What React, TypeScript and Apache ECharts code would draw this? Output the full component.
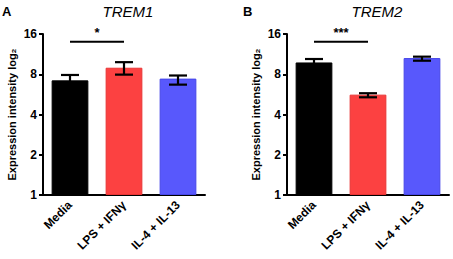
import React, { useEffect, useRef } from "react";
import * as echarts from "echarts";

const categories = ["Media", "LPS + IFNγ", "IL-4 + IL-13"];
const trem1Values = [7.2, 8.95, 7.42];
const trem1Low = [6.6, 7.95, 6.69];
const trem1High = [7.9, 9.85, 7.83];
const trem2Values = [9.8, 5.63, 10.57];
const trem2Low = [9.2, 5.38, 10.1];
const trem2High = [10.4, 5.77, 10.83];
const yTicks = [1, 2, 4, 8, 16];
const barColors = ["#000000", "#fc4141", "#5858fc"];
const barBorders = ["#000000", "#e83434", "#4646e8"];
const sig1 = { from: 0, to: 1, y: 14, label: "*" };
const sig2 = { from: 0, to: 1, y: 14, label: "***" };

const FONT = "Liberation Sans, Arial, Helvetica, sans-serif";

export default function App() {
  const ref = useRef<HTMLDivElement>(null);
  useEffect(() => {
    const chart = echarts.init(ref.current!, null, { renderer: "svg" });
    const grids = [
      { left: 43, top: 34, width: 162, height: 161 },
      { left: 287, top: 34, width: 162, height: 161 },
    ];
    const xAxis = [0, 1].map((i) => ({
      type: "category",
      gridIndex: i,
      data: categories,
      axisLine: { lineStyle: { color: "#000", width: 2 } },
      axisTick: { alignWithLabel: true, length: 5, lineStyle: { color: "#000", width: 2 } },
      axisLabel: {
        rotate: 45,
        color: "#000",
        fontWeight: "bold",
        fontSize: 12,
        fontFamily: FONT,
        interval: 0,
        margin: 8,
      },
    }));
    const yAxis = [0, 1].map((i) => ({
      type: "log",
      logBase: 2,
      gridIndex: i,
      min: yTicks[0],
      max: yTicks[yTicks.length - 1],
      splitNumber: 4,
      name: "Expression intensity log₂",
      nameLocation: "middle",
      nameGap: 26,
      nameTextStyle: { color: "#000", fontWeight: "bold", fontSize: 11, fontFamily: FONT },
      axisLine: { show: true, lineStyle: { color: "#000", width: 2 } },
      axisTick: { show: true, length: 4, lineStyle: { color: "#000", width: 2 } },
      splitLine: { show: false },
      axisLabel: { color: "#000", fontWeight: "bold", fontSize: 12, fontFamily: FONT, margin: 6 },
    }));

    const errRender = (params: any, api: any) => {
      const x = api.value(0);
      const lo = api.coord([x, api.value(1)]);
      const hi = api.coord([x, api.value(2)]);
      const half = 9;
      const style = { stroke: "#000", lineWidth: 2.2 };
      return {
        type: "group",
        children: [
          { type: "line", shape: { x1: lo[0], y1: lo[1], x2: hi[0], y2: hi[1] }, style },
          { type: "line", shape: { x1: lo[0] - half, y1: lo[1], x2: lo[0] + half, y2: lo[1] }, style },
          { type: "line", shape: { x1: hi[0] - half, y1: hi[1], x2: hi[0] + half, y2: hi[1] }, style },
        ],
      };
    };
    const sigRender = (label: string) => (params: any, api: any) => {
      const a = api.coord([api.value(0), api.value(2)]);
      const b = api.coord([api.value(1), api.value(2)]);
      return {
        type: "group",
        children: [
          { type: "line", shape: { x1: a[0], y1: a[1], x2: b[0], y2: b[1] }, style: { stroke: "#000", lineWidth: 2 } },
          {
            type: "text",
            x: (a[0] + b[0]) / 2,
            y: a[1] - 3,
            style: { text: label, fill: "#000", font: `bold 13px ${FONT}`, align: "center", verticalAlign: "bottom" },
          },
        ],
      };
    };

    const makeSeries = (i: number, vals: number[], lo: number[], hi: number[], sig: any) => [
      {
        type: "bar",
        xAxisIndex: i,
        yAxisIndex: i,
        barWidth: "68%",
        data: vals.map((v, k) => ({
          value: v,
          itemStyle: { color: barColors[k], borderColor: barBorders[k], borderWidth: 1 },
        })),
      },
      {
        type: "custom",
        xAxisIndex: i,
        yAxisIndex: i,
        clip: false,
        renderItem: errRender,
        data: vals.map((_, k) => [k, lo[k], hi[k]]),
        z: 5,
      },
      {
        type: "custom",
        xAxisIndex: i,
        yAxisIndex: i,
        clip: false,
        renderItem: sigRender(sig.label),
        data: [[sig.from, sig.to, sig.y]],
        z: 5,
      },
    ];

    const letterStyle = { fontSize: 13, fontWeight: "bold", fontFamily: FONT, color: "#000" };
    const titleStyle = { fontSize: 15, fontStyle: "italic", fontWeight: "normal", fontFamily: FONT, color: "#000" };
    chart.setOption({
      animation: false,
      grid: grids,
      xAxis,
      yAxis,
      title: [
        { text: "A", left: 2, top: 5, padding: 0, textStyle: letterStyle },
        { text: "TREM1", left: 128, top: 4, padding: 0, textAlign: "center", textStyle: titleStyle },
        { text: "B", left: 243, top: 5, padding: 0, textStyle: letterStyle },
        { text: "TREM2", left: 377, top: 4, padding: 0, textAlign: "center", textStyle: titleStyle },
      ],
      series: [
        ...makeSeries(0, trem1Values, trem1Low, trem1High, sig1),
        ...makeSeries(1, trem2Values, trem2Low, trem2High, sig2),
      ],
    });
    return () => chart.dispose();
  }, []);
  return <div ref={ref} style={{ width: 453, height: 259, position: "absolute", left: 0, top: 0 }} />;
}
